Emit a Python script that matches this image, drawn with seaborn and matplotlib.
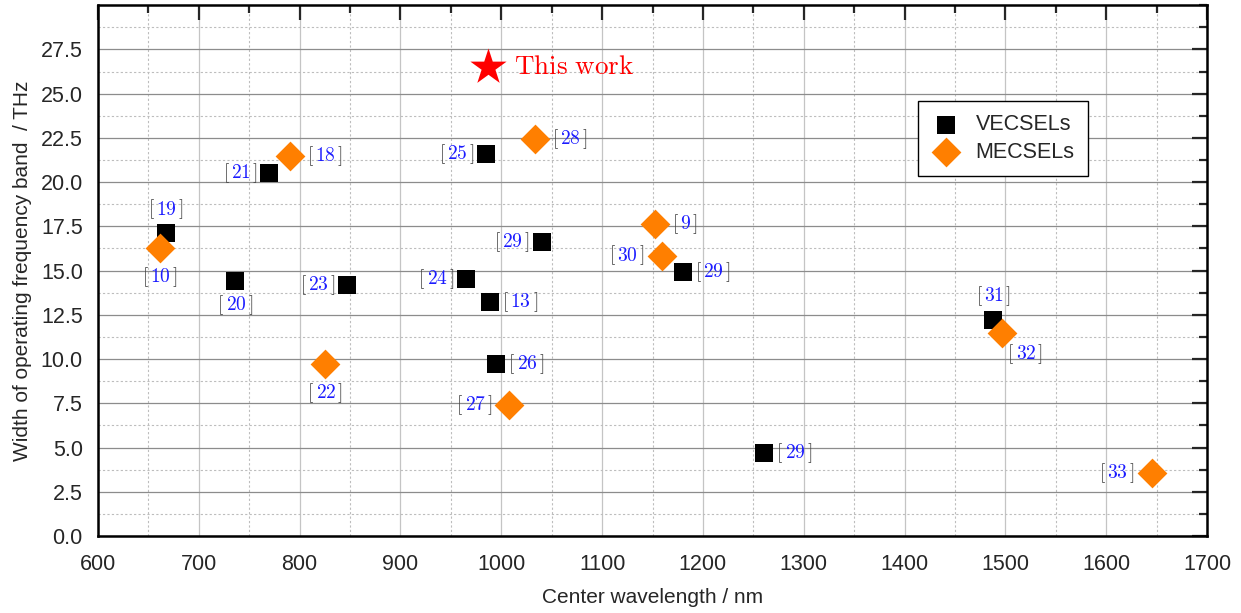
import pandas as pd
import matplotlib
matplotlib.use("Agg")
import matplotlib.pyplot as plt
import seaborn as sns
from matplotlib.ticker import MultipleLocator, FixedLocator, FormatStrFormatter
from matplotlib.offsetbox import TextArea, HPacker, AnnotationBbox

# VECSEL data points (center wavelength in nm, band width in THz, reference)
vecsel_wl = [667, 736, 770, 847, 985, 965, 989, 1040, 995, 1180, 1261, 1488]
vecsel_bw = [17.1, 14.4, 20.5, 14.2, 21.6, 14.5, 13.2, 16.6, 9.7, 14.9, 4.7, 12.2]
vecsel_ref = ["19", "20", "21", "23", "25", "24", "13", "29", "26", "29", "29", "31"]

# MECSEL data points
mecsel_wl = [661, 790, 825, 1033, 1152, 1159, 1008, 1497, 1645]
mecsel_bw = [16.25, 21.45, 9.7, 22.45, 17.65, 15.85, 7.4, 11.5, 3.55]
mecsel_ref = ["10", "18", "22", "28", "9", "30", "27", "32", "33"]

# this work
this_wl = [987]
this_bw = [26.5]

# where each reference label sits relative to its marker
vecsel_pos = ["above", "below", "left", "left", "left", "left", "right", "left", "right", "right", "right", "above"]
mecsel_pos = ["below", "right", "below", "right", "right", "left", "left", "belowright", "left"]

ORANGE = "#ff7f00"
BLUE = "#1c1cff"
GRAY = "#444444"


def ref_label(ax, x, y, num, where, gap):
    parts = [TextArea("$[$", textprops=dict(color=GRAY, size=14)),
             TextArea(f"${num}$", textprops=dict(color=BLUE, size=14)),
             TextArea("$]$", textprops=dict(color=GRAY, size=14))]
    box = HPacker(children=parts, align="baseline", pad=0, sep=1)
    offsets = {"right": ((gap, 0), (0, 0.5)),
               "left": ((-gap, 0), (1, 0.5)),
               "above": ((0, gap), (0.5, 0)),
               "below": ((0, -gap), (0.5, 1)),
               "belowright": ((5, -10), (0, 1))}
    xybox, align = offsets[where]
    ab = AnnotationBbox(box, (x, y), xybox=xybox, xycoords="data",
                        boxcoords="offset pixels", box_alignment=align,
                        frameon=False, pad=0)
    ax.add_artist(ab)


def main():
    sns.set_style("white")
    plt.rcParams["font.family"] = ["Liberation Sans", "DejaVu Sans"]
    plt.rcParams["mathtext.fontset"] = "cm"

    vec_df = pd.DataFrame({"wl": vecsel_wl, "bw": vecsel_bw})
    mec_df = pd.DataFrame({"wl": mecsel_wl, "bw": mecsel_bw})
    this_df = pd.DataFrame({"wl": this_wl, "bw": this_bw})

    fig = plt.figure(figsize=(12.41, 6.13), dpi=100)
    ax = fig.add_axes([0.079, 0.1256, 0.8936, 0.866])

    sns.scatterplot(data=vec_df, x="wl", y="bw", marker="s", s=169, color="black",
                    linewidth=0, label="VECSELs", ax=ax, zorder=3)
    sns.scatterplot(data=mec_df, x="wl", y="bw", marker="D", s=230, color=ORANGE,
                    linewidth=0, label="MECSELs", ax=ax, zorder=4)
    sns.scatterplot(data=this_df, x="wl", y="bw", marker="*", s=750, color="red",
                    linewidth=0, legend=False, ax=ax, zorder=4)
    ax.annotate(r"$\mathrm{This\ work}$", (this_wl[0], this_bw[0]), xytext=(26, 0),
                textcoords="offset pixels", color="red", fontsize=19.5, va="center", ha="left")

    for x, y, r, p in zip(vecsel_wl, vecsel_bw, vecsel_ref, vecsel_pos):
        ref_label(ax, x, y, r, p, 12)
    for x, y, r, p in zip(mecsel_wl, mecsel_bw, mecsel_ref, mecsel_pos):
        ref_label(ax, x, y, r, p, 17)

    ax.set_xlim(600, 1700)
    ax.set_ylim(0, 30)
    ax.xaxis.set_major_locator(MultipleLocator(100))
    ax.xaxis.set_minor_locator(MultipleLocator(50))
    ax.yaxis.set_major_locator(FixedLocator([0, 2.5, 5, 7.5, 10, 12.5, 15, 17.5, 20, 22.5, 25, 27.5]))
    ax.yaxis.set_minor_locator(MultipleLocator(1.25))
    ax.yaxis.set_major_formatter(FormatStrFormatter("%.1f"))

    ax.tick_params(which="both", direction="in", top=True, right=True, labelsize=15.5, width=1.6)
    ax.tick_params(which="major", length=11)
    ax.tick_params(axis="x", which="major", pad=13)
    ax.tick_params(axis="y", which="major", pad=11)
    ax.tick_params(which="minor", length=5.5)
    for sp in ax.spines.values():
        sp.set_linewidth(1.8)
        sp.set_color("black")

    ax.xaxis.grid(True, which="major", color="#c4c4c4", lw=0.9)
    ax.yaxis.grid(True, which="major", color="#8c8c8c", lw=0.9)
    ax.grid(True, which="minor", color="#bdbdbd", lw=0.8, ls=(0, (2, 2)))
    ax.set_axisbelow(True)

    ax.set_xlabel("Center wavelength / nm", fontsize=15, labelpad=9)
    ax.set_ylabel("Width of operating frequency band  / THz", fontsize=15, labelpad=6)

    leg = ax.legend(loc="upper left", bbox_to_anchor=(0.739, 0.819), fontsize=15.5,
                    frameon=True, fancybox=False, edgecolor="black", framealpha=1,
                    handlelength=1.4, handletextpad=0.7, borderpad=0.6,
                    labelspacing=0.3, borderaxespad=0)
    leg.get_frame().set_linewidth(1.0)

    fig.savefig("out.png", dpi=100)


if __name__ == "__main__":
    main()
